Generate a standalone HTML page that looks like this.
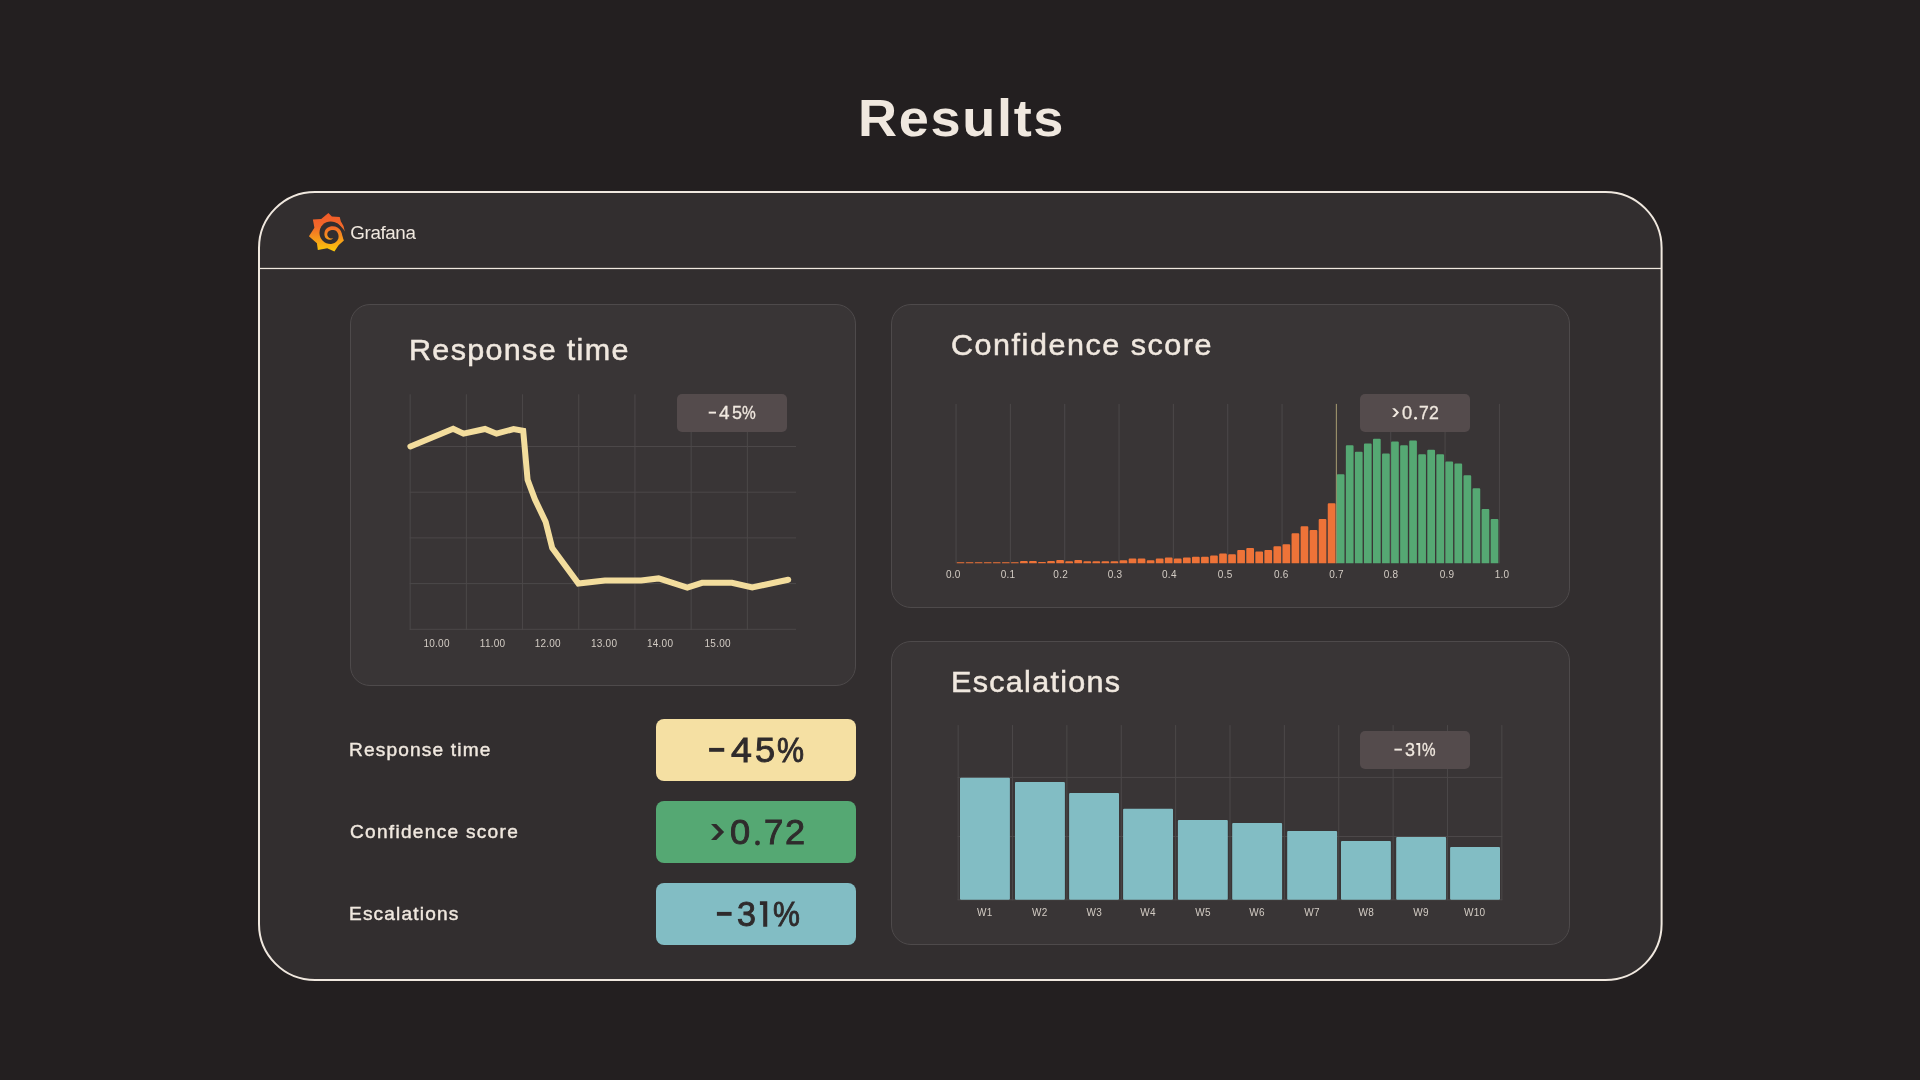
<!DOCTYPE html>
<html lang="en"><head><meta charset="utf-8"><title>Results</title>
<style>
html,body{margin:0;padding:0;}
body{width:1920px;height:1080px;background:#231f20;position:relative;overflow:hidden;font-family:"Liberation Sans",sans-serif;}
.card{position:absolute;box-sizing:border-box;border:1px solid #4e4a4b;border-radius:20px;background:#393536;}
.badge{position:absolute;width:110px;height:38px;border-radius:5px;background:#544b4c;}
.stat{position:absolute;left:656px;width:200px;height:62px;border-radius:8px;}
.t{position:absolute;white-space:nowrap;line-height:1;transform-origin:0 0;}
.c{position:absolute;white-space:nowrap;line-height:1;transform:translate(-50%,-50%);color:#d3ccc4;letter-spacing:0.25px;}
svg{position:absolute;left:0;top:0;overflow:visible;}
</style></head><body>
<svg width="1920" height="1080" viewBox="0 0 1920 1080"><rect x="259" y="192" width="1402.6" height="788" rx="56" ry="56" fill="#322e2f" stroke="#f0e8df" stroke-width="2"/><rect x="260" y="267.85" width="1401" height="1.25" fill="#f0e8df"/></svg>
<div class="card" style="left:350px;top:304px;width:506px;height:382px;"></div>
<div class="card" style="left:891px;top:304px;width:679px;height:304px;"></div>
<div class="card" style="left:891px;top:641px;width:679px;height:304px;"></div>
<svg width="1920" height="1080" viewBox="0 0 1920 1080">
<defs><linearGradient id="gg" x1="0" y1="150" x2="0" y2="985" gradientUnits="userSpaceOnUse"><stop offset="0" stop-color="#f05a28"/><stop offset="0.35" stop-color="#f2682a"/><stop offset="1" stop-color="#fbca0a"/></linearGradient></defs>
<path d="M410.15 394.3V629.8M466.35 394.3V629.8M522.55 394.3V629.8M578.75 394.3V629.8M634.95 394.3V629.8M691.15 394.3V629.8M747.35 394.3V629.8M409.65 446.50H796M409.65 492.20H796M409.65 537.90H796M409.65 583.60H796M409.65 629.30H796" stroke="#4c4849" stroke-width="1" fill="none"/>
<polyline points="410.4,446.4 453.2,428.8 463.5,433.7 485.0,429.0 496.5,433.7 513.6,429.0 523.2,430.8 527.6,479.8 534.9,499.3 545.7,521.9 552.2,548.0 578.4,583.6 604.9,580.5 641.2,580.5 658.6,578.4 687.3,587.5 702.1,582.8 731.9,582.8 752.2,587.5 788.2,579.7" fill="none" stroke="#f3dd9d" stroke-width="6" stroke-linecap="round" stroke-linejoin="miter"/>
<path d="M956.05 403.9V563.3M1010.38 403.9V563.3M1064.72 403.9V563.3M1119.05 403.9V563.3M1173.39 403.9V563.3M1227.72 403.9V563.3M1282.06 403.9V563.3M1390.73 403.9V563.3M1445.07 403.9V563.3M1499.40 403.9V563.3" stroke="#4c4849" stroke-width="1" fill="none"/>
<path d="M1336.35 403.9V563.3" stroke="#a99d72" stroke-width="1" fill="none"/>
<path d="M956.70 563.2h7.7v-0.50a0.50 0.50 0 0 0 -0.50 -0.50h-6.70a0.50 0.50 0 0 0 -0.50 0.50zM965.75 563.2h7.7v-0.50a0.50 0.50 0 0 0 -0.50 -0.50h-6.70a0.50 0.50 0 0 0 -0.50 0.50zM974.80 563.2h7.7v-0.50a0.50 0.50 0 0 0 -0.50 -0.50h-6.70a0.50 0.50 0 0 0 -0.50 0.50zM983.85 563.2h7.7v-0.50a0.50 0.50 0 0 0 -0.50 -0.50h-6.70a0.50 0.50 0 0 0 -0.50 0.50zM992.90 563.2h7.7v-0.50a0.50 0.50 0 0 0 -0.50 -0.50h-6.70a0.50 0.50 0 0 0 -0.50 0.50zM1001.95 563.2h7.7v-0.50a0.50 0.50 0 0 0 -0.50 -0.50h-6.70a0.50 0.50 0 0 0 -0.50 0.50zM1011.00 563.2h7.7v-0.50a0.50 0.50 0 0 0 -0.50 -0.50h-6.70a0.50 0.50 0 0 0 -0.50 0.50zM1020.05 563.2h7.7v-1.20a1.00 1.00 0 0 0 -1.00 -1.00h-5.70a1.00 1.00 0 0 0 -1.00 1.00zM1029.10 563.2h7.7v-1.20a1.00 1.00 0 0 0 -1.00 -1.00h-5.70a1.00 1.00 0 0 0 -1.00 1.00zM1038.15 563.2h7.7v-0.60a0.60 0.60 0 0 0 -0.60 -0.60h-6.50a0.60 0.60 0 0 0 -0.60 0.60zM1047.20 563.2h7.7v-1.20a1.00 1.00 0 0 0 -1.00 -1.00h-5.70a1.00 1.00 0 0 0 -1.00 1.00zM1056.25 563.2h7.7v-2.20a1.00 1.00 0 0 0 -1.00 -1.00h-5.70a1.00 1.00 0 0 0 -1.00 1.00zM1065.30 563.2h7.7v-1.00a1.00 1.00 0 0 0 -1.00 -1.00h-5.70a1.00 1.00 0 0 0 -1.00 1.00zM1074.35 563.2h7.7v-2.20a1.00 1.00 0 0 0 -1.00 -1.00h-5.70a1.00 1.00 0 0 0 -1.00 1.00zM1083.40 563.2h7.7v-1.00a1.00 1.00 0 0 0 -1.00 -1.00h-5.70a1.00 1.00 0 0 0 -1.00 1.00zM1092.45 563.2h7.7v-1.00a1.00 1.00 0 0 0 -1.00 -1.00h-5.70a1.00 1.00 0 0 0 -1.00 1.00zM1101.50 563.2h7.7v-1.00a1.00 1.00 0 0 0 -1.00 -1.00h-5.70a1.00 1.00 0 0 0 -1.00 1.00zM1110.55 563.2h7.7v-1.00a1.00 1.00 0 0 0 -1.00 -1.00h-5.70a1.00 1.00 0 0 0 -1.00 1.00zM1119.60 563.2h7.7v-2.00a1.00 1.00 0 0 0 -1.00 -1.00h-5.70a1.00 1.00 0 0 0 -1.00 1.00zM1128.65 563.2h7.7v-3.80a1.00 1.00 0 0 0 -1.00 -1.00h-5.70a1.00 1.00 0 0 0 -1.00 1.00zM1137.70 563.2h7.7v-3.80a1.00 1.00 0 0 0 -1.00 -1.00h-5.70a1.00 1.00 0 0 0 -1.00 1.00zM1146.75 563.2h7.7v-2.00a1.00 1.00 0 0 0 -1.00 -1.00h-5.70a1.00 1.00 0 0 0 -1.00 1.00zM1155.80 563.2h7.7v-3.80a1.00 1.00 0 0 0 -1.00 -1.00h-5.70a1.00 1.00 0 0 0 -1.00 1.00zM1164.85 563.2h7.7v-4.70a1.00 1.00 0 0 0 -1.00 -1.00h-5.70a1.00 1.00 0 0 0 -1.00 1.00zM1173.90 563.2h7.7v-3.80a1.00 1.00 0 0 0 -1.00 -1.00h-5.70a1.00 1.00 0 0 0 -1.00 1.00zM1182.95 563.2h7.7v-4.70a1.00 1.00 0 0 0 -1.00 -1.00h-5.70a1.00 1.00 0 0 0 -1.00 1.00zM1192.00 563.2h7.7v-5.50a1.00 1.00 0 0 0 -1.00 -1.00h-5.70a1.00 1.00 0 0 0 -1.00 1.00zM1201.05 563.2h7.7v-5.50a1.00 1.00 0 0 0 -1.00 -1.00h-5.70a1.00 1.00 0 0 0 -1.00 1.00zM1210.10 563.2h7.7v-6.80a1.00 1.00 0 0 0 -1.00 -1.00h-5.70a1.00 1.00 0 0 0 -1.00 1.00zM1219.15 563.2h7.7v-8.80a1.00 1.00 0 0 0 -1.00 -1.00h-5.70a1.00 1.00 0 0 0 -1.00 1.00zM1228.20 563.2h7.7v-7.90a1.00 1.00 0 0 0 -1.00 -1.00h-5.70a1.00 1.00 0 0 0 -1.00 1.00zM1237.25 563.2h7.7v-12.30a1.00 1.00 0 0 0 -1.00 -1.00h-5.70a1.00 1.00 0 0 0 -1.00 1.00zM1246.30 563.2h7.7v-14.20a1.00 1.00 0 0 0 -1.00 -1.00h-5.70a1.00 1.00 0 0 0 -1.00 1.00zM1255.35 563.2h7.7v-10.70a1.00 1.00 0 0 0 -1.00 -1.00h-5.70a1.00 1.00 0 0 0 -1.00 1.00zM1264.40 563.2h7.7v-12.30a1.00 1.00 0 0 0 -1.00 -1.00h-5.70a1.00 1.00 0 0 0 -1.00 1.00zM1273.45 563.2h7.7v-16.00a1.00 1.00 0 0 0 -1.00 -1.00h-5.70a1.00 1.00 0 0 0 -1.00 1.00zM1282.50 563.2h7.7v-17.90a1.00 1.00 0 0 0 -1.00 -1.00h-5.70a1.00 1.00 0 0 0 -1.00 1.00zM1291.55 563.2h7.7v-29.00a1.00 1.00 0 0 0 -1.00 -1.00h-5.70a1.00 1.00 0 0 0 -1.00 1.00zM1300.60 563.2h7.7v-35.90a1.00 1.00 0 0 0 -1.00 -1.00h-5.70a1.00 1.00 0 0 0 -1.00 1.00zM1309.65 563.2h7.7v-32.30a1.00 1.00 0 0 0 -1.00 -1.00h-5.70a1.00 1.00 0 0 0 -1.00 1.00zM1318.70 563.2h7.7v-43.30a1.00 1.00 0 0 0 -1.00 -1.00h-5.70a1.00 1.00 0 0 0 -1.00 1.00zM1327.75 563.2h7.7v-59.00a1.00 1.00 0 0 0 -1.00 -1.00h-5.70a1.00 1.00 0 0 0 -1.00 1.00z" fill="#ee7338"/>
<path d="M1336.80 563.2h7.7v-87.90a1.00 1.00 0 0 0 -1.00 -1.00h-5.70a1.00 1.00 0 0 0 -1.00 1.00zM1345.85 563.2h7.7v-117.00a1.00 1.00 0 0 0 -1.00 -1.00h-5.70a1.00 1.00 0 0 0 -1.00 1.00zM1354.90 563.2h7.7v-110.50a1.00 1.00 0 0 0 -1.00 -1.00h-5.70a1.00 1.00 0 0 0 -1.00 1.00zM1363.95 563.2h7.7v-118.80a1.00 1.00 0 0 0 -1.00 -1.00h-5.70a1.00 1.00 0 0 0 -1.00 1.00zM1373.00 563.2h7.7v-123.40a1.00 1.00 0 0 0 -1.00 -1.00h-5.70a1.00 1.00 0 0 0 -1.00 1.00zM1382.05 563.2h7.7v-108.80a1.00 1.00 0 0 0 -1.00 -1.00h-5.70a1.00 1.00 0 0 0 -1.00 1.00zM1391.10 563.2h7.7v-120.70a1.00 1.00 0 0 0 -1.00 -1.00h-5.70a1.00 1.00 0 0 0 -1.00 1.00zM1400.15 563.2h7.7v-117.00a1.00 1.00 0 0 0 -1.00 -1.00h-5.70a1.00 1.00 0 0 0 -1.00 1.00zM1409.20 563.2h7.7v-121.80a1.00 1.00 0 0 0 -1.00 -1.00h-5.70a1.00 1.00 0 0 0 -1.00 1.00zM1418.25 563.2h7.7v-107.90a1.00 1.00 0 0 0 -1.00 -1.00h-5.70a1.00 1.00 0 0 0 -1.00 1.00zM1427.30 563.2h7.7v-112.50a1.00 1.00 0 0 0 -1.00 -1.00h-5.70a1.00 1.00 0 0 0 -1.00 1.00zM1436.35 563.2h7.7v-107.90a1.00 1.00 0 0 0 -1.00 -1.00h-5.70a1.00 1.00 0 0 0 -1.00 1.00zM1445.40 563.2h7.7v-100.70a1.00 1.00 0 0 0 -1.00 -1.00h-5.70a1.00 1.00 0 0 0 -1.00 1.00zM1454.45 563.2h7.7v-98.80a1.00 1.00 0 0 0 -1.00 -1.00h-5.70a1.00 1.00 0 0 0 -1.00 1.00zM1463.50 563.2h7.7v-87.00a1.00 1.00 0 0 0 -1.00 -1.00h-5.70a1.00 1.00 0 0 0 -1.00 1.00zM1472.55 563.2h7.7v-74.00a1.00 1.00 0 0 0 -1.00 -1.00h-5.70a1.00 1.00 0 0 0 -1.00 1.00zM1481.60 563.2h7.7v-53.30a1.00 1.00 0 0 0 -1.00 -1.00h-5.70a1.00 1.00 0 0 0 -1.00 1.00zM1490.65 563.2h7.7v-43.30a1.00 1.00 0 0 0 -1.00 -1.00h-5.70a1.00 1.00 0 0 0 -1.00 1.00z" fill="#55a873"/>
<path d="M958.15 725.1V900.2M1012.52 725.1V900.2M1066.89 725.1V900.2M1121.26 725.1V900.2M1175.63 725.1V900.2M1230.00 725.1V900.2M1284.37 725.1V900.2M1338.74 725.1V900.2M1393.11 725.1V900.2M1447.48 725.1V900.2M1501.85 725.1V900.2M957.65 777.4H1502.3M957.65 836.5H1502.3M957.65 899.8H1502.3" stroke="#4c4849" stroke-width="1" fill="none"/>
<rect x="960.0" y="777.8" width="49.9" height="122.0" rx="1" fill="#82bdc4"/>
<rect x="1015.0" y="781.9" width="49.9" height="117.9" rx="1" fill="#82bdc4"/>
<rect x="1069.1" y="792.9" width="49.9" height="106.9" rx="1" fill="#82bdc4"/>
<rect x="1123.1" y="808.8" width="49.9" height="91.0" rx="1" fill="#82bdc4"/>
<rect x="1177.9" y="820.0" width="49.9" height="79.8" rx="1" fill="#82bdc4"/>
<rect x="1232.2" y="823.0" width="49.9" height="76.8" rx="1" fill="#82bdc4"/>
<rect x="1287.2" y="831.0" width="49.9" height="68.8" rx="1" fill="#82bdc4"/>
<rect x="1341.0" y="841.0" width="49.9" height="58.8" rx="1" fill="#82bdc4"/>
<rect x="1396.2" y="836.9" width="49.9" height="62.9" rx="1" fill="#82bdc4"/>
<rect x="1450.1" y="846.9" width="49.9" height="52.9" rx="1" fill="#82bdc4"/>
</svg>
<div class="badge" style="left:677px;top:394.2px;"></div>
<div class="badge" style="left:1360px;top:394px;"></div>
<div class="badge" style="left:1360px;top:731px;"></div>
<div class="stat" style="top:719px;background:#f5e0a3;"></div>
<div class="stat" style="top:801px;background:#55a873;"></div>
<div class="stat" style="top:883px;background:#82bdc4;"></div>
<svg style="left:302px;top:206px;" width="50" height="50" viewBox="0 0 1080 1080">
<path fill="url(#gg)" d="M570 150L645 226L815 238L838 330Q908 420 925 550L895 504L847 447L797 401L741 368L700 420L800 600L862 600L868 650L905 745L790 848L700 985L545 915L342 950L322 805L150 655L268 470L235 290L415 280Z"/>
<circle cx="620" cy="578" r="243" fill="#322e2f"/>
<path fill="url(#gg)" d="M675 690C640 735 580 745 530 710C490 680 475 620 487 570C500 500 560 445 640 438C730 432 800 470 840 540L862 600L880 700L830 790L740 850L640 830L640 819C700 810 760 770 785 700C800 650 785 590 755 555C725 525 680 518 640 520C590 525 548 560 545 610C545 660 580 695 620 700C645 702 665 698 675 690Z"/>
</svg>
<svg width="1920" height="1080" viewBox="0 0 1920 1080">
<rect x="709.10" y="747.90" width="15.15" height="3.90" fill="#2f2b2c"/>
<rect x="716.90" y="911.90" width="14.70" height="3.90" fill="#2f2b2c"/>
<rect x="708.70" y="411.65" width="7.30" height="1.95" fill="#f0e8df"/>
<rect x="1394.40" y="748.65" width="7.50" height="1.95" fill="#f0e8df"/>
<circle cx="757.50" cy="843.00" r="2.45" fill="#2f2b2c"/>
<circle cx="1415.55" cy="418.20" r="1.45" fill="#f0e8df"/>
<path d="M759.9 901.25H767.25V926.75H763.2V905H759.9Z" fill="#2f2b2c"/>
<path d="M1416.25 743.1H1420.2V755.8H1418.3V745H1416.25Z" fill="#f0e8df"/>
<polygon points="711.00,824.12 716.31,824.12 724.12,832.06 716.31,840.00 711.00,840.00 718.81,832.06" fill="#2f2b2c"/>
<polygon points="1392.10,408.20 1394.90,408.20 1399.10,412.60 1394.90,417.00 1392.10,417.00 1396.30,412.60" fill="#f0e8df"/>
</svg>
<div style="position:absolute;left:0;top:0;width:1920px;height:1080px;will-change:transform;">
<div class="t" id="title" style="left:857.78px;top:91.76px;font-size:52.50px;font-weight:700;color:#f0e8df;letter-spacing:1.628px;transform:scaleX(1.030);">Results</div>
<div class="t" id="graf" style="left:350.32px;top:223.69px;font-size:18.80px;font-weight:400;color:#f0e8df;letter-spacing:-0.389px;">Grafana</div>
<div class="t" id="ct1" style="left:409.46px;top:335.62px;font-size:28.80px;font-weight:400;color:#f0e8df;letter-spacing:1.242px;transform:scaleX(1.060);-webkit-text-stroke:0.50px #f0e8df;">Response time</div>
<div class="t" id="ct2" style="left:951.22px;top:330.62px;font-size:28.80px;font-weight:400;color:#f0e8df;letter-spacing:1.444px;transform:scaleX(1.060);-webkit-text-stroke:0.50px #f0e8df;">Confidence score</div>
<div class="t" id="ct3" style="left:951.24px;top:667.62px;font-size:28.80px;font-weight:400;color:#f0e8df;letter-spacing:1.227px;transform:scaleX(1.060);-webkit-text-stroke:0.50px #f0e8df;">Escalations</div>
<div class="t" id="sl1" style="left:349.00px;top:741.51px;font-size:17.70px;font-weight:400;color:#f0e8df;letter-spacing:1.080px;transform:scaleX(1.080);-webkit-text-stroke:0.40px #f0e8df;">Response time</div>
<div class="t" id="sl2" style="left:350.20px;top:823.51px;font-size:17.70px;font-weight:400;color:#f0e8df;letter-spacing:1.179px;transform:scaleX(1.080);-webkit-text-stroke:0.40px #f0e8df;">Confidence score</div>
<div class="t" id="sl3" style="left:349.00px;top:905.51px;font-size:17.70px;font-weight:400;color:#f0e8df;letter-spacing:1.078px;transform:scaleX(1.080);-webkit-text-stroke:0.40px #f0e8df;">Escalations</div>
<div class="t" id="v1_0" style="left:730.52px;top:733.31px;font-size:34.60px;font-weight:400;color:#2f2b2c;letter-spacing:0.000px;transform:scaleX(1.084);-webkit-text-stroke:0.90px #2f2b2c;">4</div>
<div class="t" id="v1_1" style="left:754.62px;top:733.31px;font-size:34.60px;font-weight:400;color:#2f2b2c;letter-spacing:0.000px;transform:scaleX(1.048);-webkit-text-stroke:0.90px #2f2b2c;">5</div>
<div class="t" id="v1_2" style="left:777.38px;top:733.31px;font-size:34.60px;font-weight:400;color:#2f2b2c;letter-spacing:0.000px;transform:scaleX(0.879);-webkit-text-stroke:0.90px #2f2b2c;">%</div>
<div class="t" id="v2_0" style="left:730.29px;top:815.31px;font-size:34.60px;font-weight:400;color:#2f2b2c;letter-spacing:0.000px;transform:scaleX(1.049);-webkit-text-stroke:0.90px #2f2b2c;">0</div>
<div class="t" id="v2_1" style="left:763.99px;top:815.31px;font-size:34.60px;font-weight:400;color:#2f2b2c;letter-spacing:0.000px;transform:scaleX(1.004);-webkit-text-stroke:0.90px #2f2b2c;">7</div>
<div class="t" id="v2_2" style="left:784.60px;top:815.31px;font-size:34.60px;font-weight:400;color:#2f2b2c;letter-spacing:0.000px;transform:scaleX(1.045);-webkit-text-stroke:0.90px #2f2b2c;">2</div>
<div class="t" id="v3_0" style="left:736.63px;top:897.31px;font-size:34.60px;font-weight:400;color:#2f2b2c;letter-spacing:0.000px;transform:scaleX(0.985);-webkit-text-stroke:0.90px #2f2b2c;">3</div>
<div class="t" id="v3_1" style="left:772.92px;top:897.31px;font-size:34.60px;font-weight:400;color:#2f2b2c;letter-spacing:0.000px;transform:scaleX(0.875);-webkit-text-stroke:0.90px #2f2b2c;">%</div>
<div class="t" id="b1_0" style="left:718.51px;top:405.00px;font-size:17.80px;font-weight:400;color:#f0e8df;letter-spacing:0.000px;transform:scaleX(1.065);-webkit-text-stroke:0.30px #f0e8df;">4</div>
<div class="t" id="b1_1" style="left:731.68px;top:405.00px;font-size:17.80px;font-weight:400;color:#f0e8df;letter-spacing:0.000px;transform:scaleX(1.010);-webkit-text-stroke:0.30px #f0e8df;">5</div>
<div class="t" id="b1_2" style="left:742.45px;top:404.74px;font-size:17.80px;font-weight:400;color:#f0e8df;letter-spacing:0.000px;transform:scaleX(0.868);-webkit-text-stroke:0.30px #f0e8df;">%</div>
<div class="t" id="b2_0" style="left:1402.47px;top:405.00px;font-size:17.80px;font-weight:400;color:#f0e8df;letter-spacing:0.000px;transform:scaleX(1.023);-webkit-text-stroke:0.30px #f0e8df;">0</div>
<div class="t" id="b2_1" style="left:1418.51px;top:405.00px;font-size:17.80px;font-weight:400;color:#f0e8df;letter-spacing:0.000px;transform:scaleX(0.988);-webkit-text-stroke:0.30px #f0e8df;">7</div>
<div class="t" id="b2_2" style="left:1428.90px;top:405.00px;font-size:17.80px;font-weight:400;color:#f0e8df;letter-spacing:0.000px;transform:scaleX(0.997);-webkit-text-stroke:0.30px #f0e8df;">2</div>
<div class="t" id="b3_0" style="left:1404.74px;top:742.00px;font-size:17.80px;font-weight:400;color:#f0e8df;letter-spacing:0.000px;transform:scaleX(1.007);-webkit-text-stroke:0.30px #f0e8df;">3</div>
<div class="t" id="b3_1" style="left:1422.48px;top:741.77px;font-size:17.80px;font-weight:400;color:#f0e8df;letter-spacing:0.000px;transform:scaleX(0.856);-webkit-text-stroke:0.30px #f0e8df;">%</div>
<div class="c" style="left:436.6px;top:644.0px;font-size:10px;">10.00</div>
<div class="c" style="left:492.6px;top:644.0px;font-size:10px;">11.00</div>
<div class="c" style="left:547.8px;top:644.0px;font-size:10px;">12.00</div>
<div class="c" style="left:604.1px;top:644.0px;font-size:10px;">13.00</div>
<div class="c" style="left:660.1px;top:644.0px;font-size:10px;">14.00</div>
<div class="c" style="left:717.7px;top:644.0px;font-size:10px;">15.00</div>
<div class="c" style="left:953.3px;top:574.6px;font-size:10px;">0.0</div>
<div class="c" style="left:1008.0px;top:574.6px;font-size:10px;">0.1</div>
<div class="c" style="left:1060.7px;top:574.6px;font-size:10px;">0.2</div>
<div class="c" style="left:1115.0px;top:574.6px;font-size:10px;">0.3</div>
<div class="c" style="left:1169.4px;top:574.6px;font-size:10px;">0.4</div>
<div class="c" style="left:1225.2px;top:574.6px;font-size:10px;">0.5</div>
<div class="c" style="left:1281.3px;top:574.6px;font-size:10px;">0.6</div>
<div class="c" style="left:1336.5px;top:574.6px;font-size:10px;">0.7</div>
<div class="c" style="left:1391.0px;top:574.6px;font-size:10px;">0.8</div>
<div class="c" style="left:1447.0px;top:574.6px;font-size:10px;">0.9</div>
<div class="c" style="left:1502.0px;top:574.6px;font-size:10px;">1.0</div>
<div class="c" style="left:984.8px;top:912.9px;font-size:10px;">W1</div>
<div class="c" style="left:1039.8px;top:912.9px;font-size:10px;">W2</div>
<div class="c" style="left:1094.2px;top:912.9px;font-size:10px;">W3</div>
<div class="c" style="left:1148.1px;top:912.9px;font-size:10px;">W4</div>
<div class="c" style="left:1203.1px;top:912.9px;font-size:10px;">W5</div>
<div class="c" style="left:1257.1px;top:912.9px;font-size:10px;">W6</div>
<div class="c" style="left:1312.0px;top:912.9px;font-size:10px;">W7</div>
<div class="c" style="left:1366.2px;top:912.9px;font-size:10px;">W8</div>
<div class="c" style="left:1421.0px;top:912.9px;font-size:10px;">W9</div>
<div class="c" style="left:1474.6px;top:912.9px;font-size:10px;">W10</div>
</div>
</body></html>
